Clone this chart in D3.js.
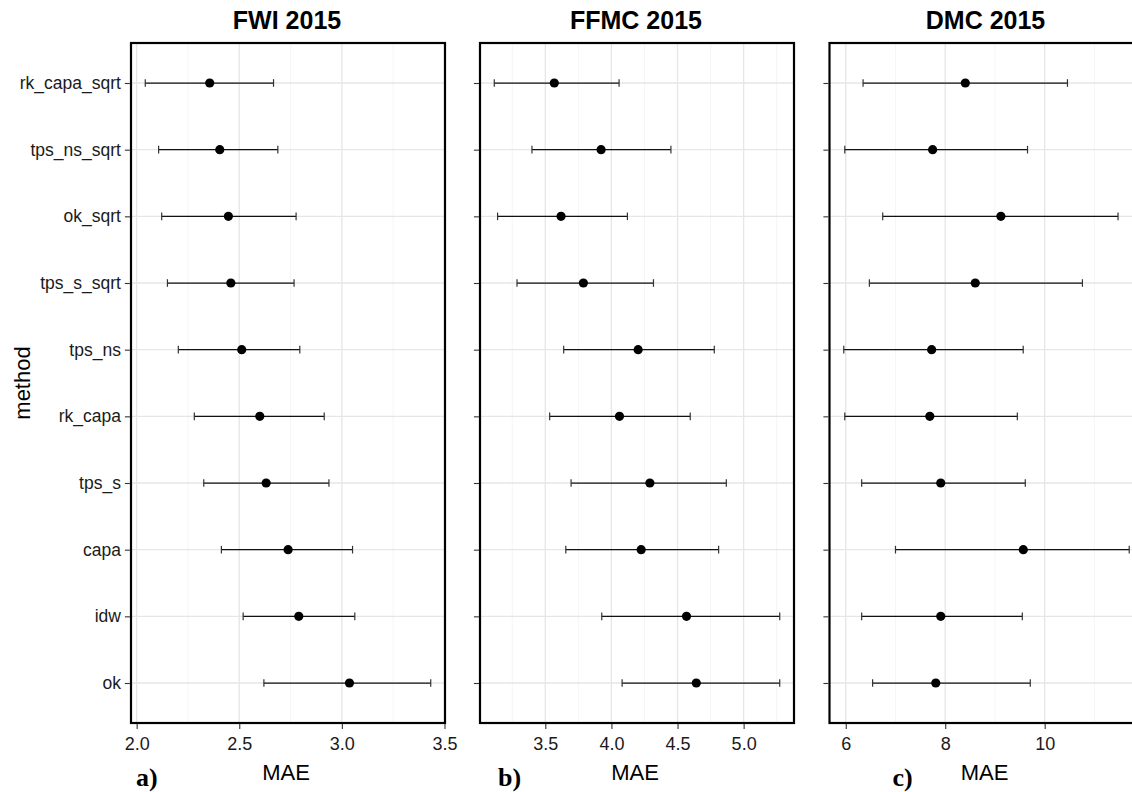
<!DOCTYPE html>
<html>
<head>
<meta charset="utf-8">
<script src="https://cdn.jsdelivr.net/npm/d3@7"></script>
<style>
  html, body { margin: 0; padding: 0; background: #fff; }
  svg { display: block; }
  text { font-family: "Liberation Sans", Arial, Helvetica, sans-serif; }
</style>
</head>
<body>
<svg id="chart" width="1132" height="792"></svg>
<script>
// Interpolation methods, top to bottom
const methods = ["rk_capa_sqrt", "tps_ns_sqrt", "ok_sqrt", "tps_s_sqrt", "tps_ns",
                 "rk_capa", "tps_s", "capa", "idw", "ok"];

// FWI 2015: mean MAE and interval bounds
const fwiMean = [2.356, 2.405, 2.447, 2.459, 2.512, 2.600, 2.631, 2.738, 2.790, 3.037];
const fwiLow  = [2.042, 2.107, 2.122, 2.150, 2.203, 2.281, 2.327, 2.413, 2.519, 2.620];
const fwiHigh = [2.667, 2.688, 2.777, 2.767, 2.795, 2.914, 2.937, 3.052, 3.063, 3.433];

// FFMC 2015
const ffmcMean = [3.568, 3.922, 3.619, 3.788, 4.202, 4.061, 4.291, 4.225, 4.568, 4.642];
const ffmcLow  = [3.114, 3.399, 3.139, 3.286, 3.639, 3.533, 3.695, 3.655, 3.927, 4.081];
const ffmcHigh = [4.058, 4.450, 4.121, 4.318, 4.778, 4.596, 4.869, 4.811, 5.273, 5.273];

// DMC 2015
const dmcMean = [8.404, 7.747, 9.119, 8.604, 7.727, 7.690, 7.910, 9.570, 7.910, 7.810];
const dmcLow  = [6.348, 5.980, 6.743, 6.475, 5.960, 5.980, 6.320, 7.000, 6.320, 6.540];
const dmcHigh = [10.458, 9.655, 11.475, 10.759, 9.568, 9.450, 9.610, 11.700, 9.550, 9.710];

// Panel titles, tags and x tick values
const panelTitles = ["FWI 2015", "FFMC 2015", "DMC 2015"];
const panelTags = ["a)", "b)", "c)"];
const fwiTicks = [2.0, 2.5, 3.0, 3.5];
const ffmcTicks = [3.5, 4.0, 4.5, 5.0];
const dmcTicks = [6, 8, 10];
const xLabel = "MAE";
const yLabel = "method";

const panels = [
  { title: panelTitles[0], tag: panelTags[0], mean: fwiMean, low: fwiLow, high: fwiHigh, ticks: fwiTicks, fmt: d3.format(".1f") },
  { title: panelTitles[1], tag: panelTags[1], mean: ffmcMean, low: ffmcLow, high: ffmcHigh, ticks: ffmcTicks, fmt: d3.format(".1f") },
  { title: panelTitles[2], tag: panelTags[2], mean: dmcMean, low: dmcLow, high: dmcHigh, ticks: dmcTicks, fmt: d3.format("d") }
];

// Layout
const panelW = 314, panelTop = 43, panelBottom = 723;
const panelLefts = [131, 480, 829.5];
const tagOffsets = [5, 18, 63];

const svg = d3.select("#chart");
svg.append("rect").attr("width", 1132).attr("height", 792).attr("fill", "#fff");

const y = d3.scalePoint()
  .domain(methods)
  .range([panelTop, panelBottom])
  .padding(0.6);

panels.forEach((p, i) => {
  const x0 = panelLefts[i];
  const lo = d3.min(p.low), hi = d3.max(p.high);
  const pad = (hi - lo) * 0.05;
  const x = d3.scaleLinear().domain([lo - pad, hi + pad]).range([x0, x0 + panelW]);

  const g = svg.append("g");
  const dom = x.domain();

  // minor breaks halfway between major ticks
  const step = p.ticks[1] - p.ticks[0];
  const minor = p.ticks.map(t => t - step / 2).concat([p.ticks[p.ticks.length - 1] + step / 2])
    .filter(v => v > dom[0] && v < dom[1]);

  const grid = g.append("g");
  grid.selectAll(".minor").data(minor).join("line")
    .attr("x1", d => x(d)).attr("x2", d => x(d))
    .attr("y1", panelTop).attr("y2", panelBottom)
    .attr("stroke", "#f2f2f2").attr("stroke-width", 0.8);
  grid.selectAll(".major").data(p.ticks).join("line")
    .attr("x1", d => x(d)).attr("x2", d => x(d))
    .attr("y1", panelTop).attr("y2", panelBottom)
    .attr("stroke", "#e6e6e6").attr("stroke-width", 1.3);
  grid.selectAll(".hmajor").data(methods).join("line")
    .attr("x1", x0).attr("x2", x0 + panelW)
    .attr("y1", d => y(d)).attr("y2", d => y(d))
    .attr("stroke", "#e6e6e6").attr("stroke-width", 1.3);

  // error bars
  const rows = methods.map((m, k) => ({ m, mean: p.mean[k], low: p.low[k], high: p.high[k] }));
  const bars = g.append("g");
  bars.selectAll(".bar").data(rows).join("line")
    .attr("x1", d => x(d.low)).attr("x2", d => x(d.high))
    .attr("y1", d => y(d.m)).attr("y2", d => y(d.m))
    .attr("stroke", "#111").attr("stroke-width", 1.25);
  bars.selectAll(".capL").data(rows).join("line")
    .attr("x1", d => x(d.low)).attr("x2", d => x(d.low))
    .attr("y1", d => y(d.m) - 3.8).attr("y2", d => y(d.m) + 3.8)
    .attr("stroke", "#333").attr("stroke-width", 1.2);
  bars.selectAll(".capR").data(rows).join("line")
    .attr("x1", d => x(d.high)).attr("x2", d => x(d.high))
    .attr("y1", d => y(d.m) - 3.8).attr("y2", d => y(d.m) + 3.8)
    .attr("stroke", "#333").attr("stroke-width", 1.2);

  // mean points
  g.append("g").selectAll("circle").data(rows).join("circle")
    .attr("cx", d => x(d.mean)).attr("cy", d => y(d.m))
    .attr("r", 4.6).attr("fill", "#000");

  // panel border
  g.append("rect")
    .attr("x", x0).attr("y", panelTop)
    .attr("width", panelW).attr("height", panelBottom - panelTop)
    .attr("fill", "none").attr("stroke", "#000").attr("stroke-width", 2.2);

  // y axis ticks (labels only on the first panel)
  const yAxis = d3.axisLeft(y).tickSize(5).tickPadding(4)
    .tickFormat(i === 0 ? (d => d) : () => "");
  const ya = g.append("g").attr("transform", `translate(${x0 - 1.1},0)`).call(yAxis);
  ya.select(".domain").remove();
  ya.selectAll(".tick line").attr("stroke", "#333").attr("stroke-width", 1.1);
  ya.selectAll(".tick text")
    .attr("fill", "#1a1a1a").attr("font-size", "17.5px")
    .style("font-family", "'Liberation Sans', Arial, sans-serif");

  // x axis
  const xAxis = d3.axisBottom(x).tickValues(p.ticks).tickFormat(p.fmt).tickSize(5).tickPadding(8);
  const xa = g.append("g").attr("transform", `translate(0,${panelBottom + 1.1})`).call(xAxis);
  xa.select(".domain").remove();
  xa.selectAll(".tick line").attr("stroke", "#333").attr("stroke-width", 1.1);
  xa.selectAll(".tick text")
    .attr("fill", "#1a1a1a").attr("font-size", "18px")
    .style("font-family", "'Liberation Sans', Arial, sans-serif");

  const cx = x0 + panelW / 2;

  // title
  svg.append("text")
    .attr("x", cx - 1).attr("y", 29)
    .attr("text-anchor", "middle")
    .attr("font-size", "25px").attr("font-weight", "bold")
    .attr("fill", "#000")
    .text(p.title);

  // x axis title
  svg.append("text")
    .attr("x", cx - 2).attr("y", 780)
    .attr("text-anchor", "middle")
    .attr("font-size", "22px")
    .attr("fill", "#000")
    .text(xLabel);

  // panel tag
  svg.append("text")
    .attr("x", x0 + tagOffsets[i]).attr("y", 786)
    .attr("font-size", "26px").attr("font-weight", "bold")
    .style("font-family", "'Liberation Serif', 'Times New Roman', serif")
    .attr("fill", "#000")
    .text(p.tag);
});

// y axis title
svg.append("text")
  .attr("transform", "translate(30,383) rotate(-90)")
  .attr("text-anchor", "middle")
  .attr("font-size", "22px")
  .attr("fill", "#000")
  .text(yLabel);
</script>
</body>
</html>
